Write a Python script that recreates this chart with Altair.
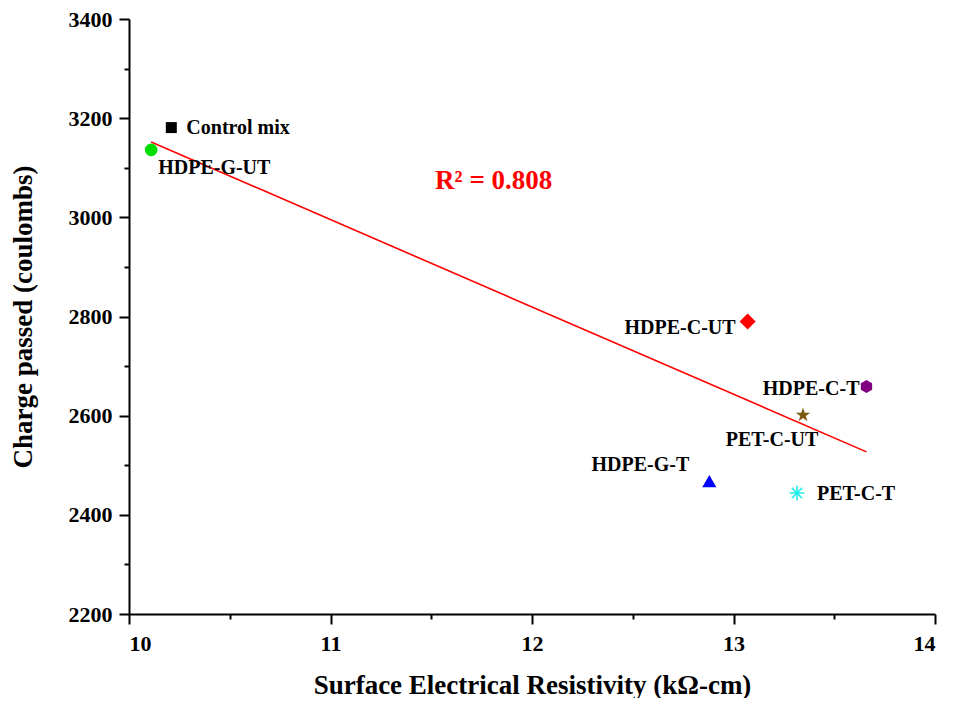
import altair as alt
import pandas as pd

# ---- data ----
labels = ["Control mix", "HDPE-G-UT", "HDPE-C-UT", "HDPE-C-T", "PET-C-UT", "HDPE-G-T", "PET-C-T"]
resistivity = [10.21, 10.11, 13.07, 13.66, 13.345, 12.88, 13.315]
charge = [3181, 3136, 2790, 2659, 2601, 2468, 2444]

x_ticks = [10, 10.5, 11, 11.5, 12, 12.5, 13, 13.5, 14]
y_ticks = [2200, 2300, 2400, 2500, 2600, 2700, 2800, 2900, 3000, 3100, 3200, 3300, 3400]

df = pd.DataFrame({"label": labels, "x": resistivity, "y": charge})

FONT = "Liberation Serif"

# marker styling per sample
shape_paths = {
    "Control mix": "square",
    "HDPE-G-UT": "circle",
    "HDPE-C-UT": "diamond",
    "HDPE-C-T": "M0,-1L0.866,-0.5L0.866,0.5L0,1L-0.866,0.5L-0.866,-0.5Z",
    "PET-C-UT": "M0,-1L0.2245,-0.309L0.951,-0.309L0.363,0.118L0.588,0.809L0,0.382L-0.588,0.809L-0.363,0.118L-0.951,-0.309L-0.2245,-0.309Z",
    "HDPE-G-T": "triangle-up",
    "PET-C-T": "M-1,0L1,0M0,-1L0,1M-0.7,-0.7L0.7,0.7M-0.7,0.7L0.7,-0.7",
}
colors = {
    "Control mix": "#000000",
    "HDPE-G-UT": "#00dd00",
    "HDPE-C-UT": "#ff0000",
    "HDPE-C-T": "#800080",
    "PET-C-UT": "#7b5a12",
    "HDPE-G-T": "#0000ff",
    "PET-C-T": "#22eeee",
}
sizes = {
    "Control mix": 121,
    "HDPE-G-UT": 160,
    "HDPE-C-UT": 260,
    "HDPE-C-T": 170,
    "PET-C-UT": 230,
    "HDPE-G-T": 200,
    "PET-C-T": 220,
}
# label offsets (dx, dy, align)
label_pos = {
    "Control mix": (15, 0, "left"),
    "HDPE-G-UT": (7, 18, "left"),
    "HDPE-C-UT": (-12, 7, "right"),
    "HDPE-C-T": (-7, 3, "right"),
    "PET-C-UT": (-31, 25, "center"),
    "HDPE-G-T": (-20, -16, "right"),
    "PET-C-T": (20, 1, "left"),
}

xscale = alt.Scale(domain=[10, 14], nice=False, zero=False)
yscale = alt.Scale(domain=[2200, 3400], nice=False, zero=False)

x_axis = alt.Axis(
    values=x_ticks,
    labelExpr="datum.value % 1 === 0 ? format(datum.value, 'd') : ''",
    title="Surface Electrical Resistivity (kΩ-cm)",
    grid=False,
    tickSize={"condition": {"test": "datum.value % 1 === 0", "value": 10}, "value": 5},
    labelOverlap=False,
    labelPadding=9,
    titlePadding=18,
    titleFontSize=27,
)
y_axis = alt.Axis(
    values=y_ticks,
    labelExpr="datum.value % 200 === 0 ? format(datum.value, 'd') : ''",
    title="Charge passed (coulombs)",
    grid=False,
    tickSize={"condition": {"test": "datum.value % 200 === 0", "value": 10}, "value": 5},
    labelOverlap=False,
    labelPadding=7,
    titlePadding=31,
    titleFontSize=27,
)

base = alt.Chart(df)

layers = []

# regression line
reg = base.mark_line(color="#ff0000", strokeWidth=1.6).transform_regression(
    "x", "y"
).encode(
    x=alt.X("x:Q", scale=xscale, axis=x_axis),
    y=alt.Y("y:Q", scale=yscale, axis=y_axis),
)
layers.append(reg)

for lab in labels:
    sub = base.transform_filter(alt.datum.label == lab)
    stroked = lab == "PET-C-T"
    pt = sub.mark_point(
        shape=shape_paths[lab],
        size=sizes[lab],
        filled=not stroked,
        color=colors[lab],
        opacity=1,
        strokeWidth=1.6 if stroked else 0,
    ).encode(x="x:Q", y="y:Q")
    dx, dy, al = label_pos[lab]
    tx = sub.mark_text(
        font=FONT, fontWeight="bold", fontSize=20, color="#000000",
        align=al, baseline="middle", dx=dx, dy=dy,
    ).encode(x="x:Q", y="y:Q", text="label:N")
    layers.extend([pt, tx])

# R^2 annotation placed in data coordinates near the line
r2 = alt.Chart(pd.DataFrame({"x": [11.81], "y": [3074], "t": ["R² = 0.808"]})).mark_text(
    font=FONT, fontWeight="bold", fontSize=27, color="#ff0000", align="center", baseline="middle"
).encode(x="x:Q", y="y:Q", text="t:N")
layers.append(r2)

chart = alt.layer(*layers).properties(
    width=806,
    height=595,
    autosize=alt.AutoSizeParams(type="none"),
    padding={"left": 121, "top": 11, "right": 8, "bottom": 84},
).configure_view(stroke=None).configure_axis(
    domainColor="#000000",
    domainWidth=2,
    tickColor="#000000",
    tickWidth=2,
    labelFont=FONT,
    labelFontWeight="bold",
    labelFontSize=22,
    labelColor="#000000",
    titleFont=FONT,
    titleFontWeight="bold",
    titleFontSize=28,
    titleColor="#000000",
)

chart.save("out.html", embed_options={"renderer": "svg", "actions": False})
